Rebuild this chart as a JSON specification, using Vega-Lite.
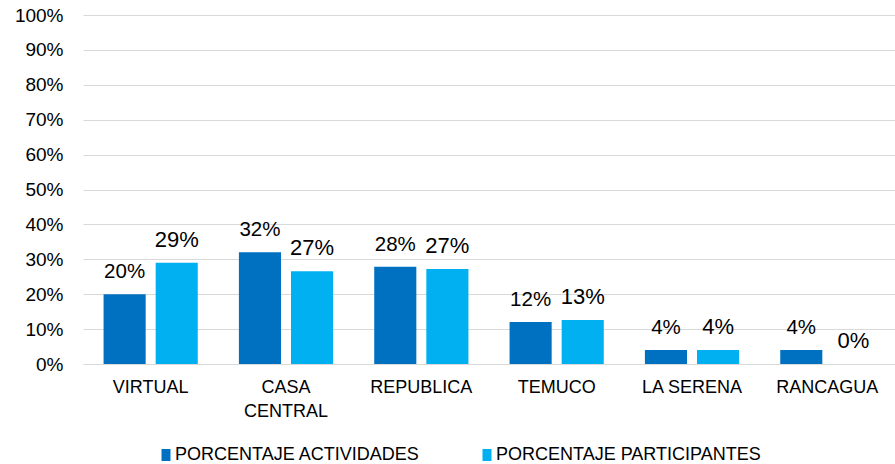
{
  "$schema": "https://vega.github.io/schema/vega-lite/v6.json",
  "width": 812,
  "height": 349,
  "autosize": "none",
  "padding": {"left": 83, "top": 15, "right": 0, "bottom": 100},
  "background": "white",
  "config": {"view": {"stroke": null}, "font": "Liberation Sans"},
  "data": {"values": [
    {"sede": "VIRTUAL", "serie": "PORCENTAJE ACTIVIDADES", "valor": 0.20},
    {"sede": "VIRTUAL", "serie": "PORCENTAJE PARTICIPANTES", "valor": 0.29},
    {"sede": "CASA CENTRAL", "serie": "PORCENTAJE ACTIVIDADES", "valor": 0.32},
    {"sede": "CASA CENTRAL", "serie": "PORCENTAJE PARTICIPANTES", "valor": 0.266},
    {"sede": "REPUBLICA", "serie": "PORCENTAJE ACTIVIDADES", "valor": 0.279},
    {"sede": "REPUBLICA", "serie": "PORCENTAJE PARTICIPANTES", "valor": 0.272},
    {"sede": "TEMUCO", "serie": "PORCENTAJE ACTIVIDADES", "valor": 0.12},
    {"sede": "TEMUCO", "serie": "PORCENTAJE PARTICIPANTES", "valor": 0.126},
    {"sede": "LA SERENA", "serie": "PORCENTAJE ACTIVIDADES", "valor": 0.04},
    {"sede": "LA SERENA", "serie": "PORCENTAJE PARTICIPANTES", "valor": 0.04},
    {"sede": "RANCAGUA", "serie": "PORCENTAJE ACTIVIDADES", "valor": 0.04},
    {"sede": "RANCAGUA", "serie": "PORCENTAJE PARTICIPANTES", "valor": 0.0}
  ]},
  "encoding": {
    "x": {
      "field": "sede", "type": "nominal", "sort": null, "title": null,
      "scale": {"paddingInner": 0.304, "paddingOuter": 0.152},
      "axis": {
        "labelAngle": 0, "ticks": false, "domain": true, "domainColor": "#D9D9D9",
        "labelFont": "Liberation Sans",
        "labelFontSize": 18, "labelColor": "#000000", "labelPadding": 14,
        "labelLineHeight": 24, "labelBaseline": "top",
        "labelExpr": "datum.label == 'CASA CENTRAL' ? ['CASA', 'CENTRAL'] : datum.label"
      }
    },
    "xOffset": {"field": "serie", "type": "nominal", "scale": {"paddingInner": 0.192, "paddingOuter": 0}},
    "y": {
      "field": "valor", "type": "quantitative", "title": null,
      "scale": {"domain": [0, 1]},
      "axis": {
        "format": ".0%", "values": [0,0.1,0.2,0.3,0.4,0.5,0.6,0.7,0.8,0.9,1],
        "labelOverlap": false,
        "grid": true, "gridColor": "#D9D9D9", "domain": false, "ticks": false,
        "labelFontSize": 19, "labelColor": "#000000", "labelPadding": 20
      }
    }
  },
  "layer": [
    {
      "mark": {"type": "bar"},
      "encoding": {
        "color": {
          "field": "serie", "type": "nominal",
          "scale": {"domain": ["PORCENTAJE ACTIVIDADES", "PORCENTAJE PARTICIPANTES"], "range": ["#0070C0", "#00B0F0"]},
          "legend": {
            "title": null, "orient": "none", "direction": "horizontal",
            "legendX": 74, "legendY": 431,
            "symbolType": "M-0.75,-1H0.75V1H-0.75Z", "symbolSize": 144,
            "symbolStrokeWidth": 0,
            "labelFont": "Liberation Sans",
            "labelFontSize": 18, "labelColor": "#000000", "labelOffset": 0,
            "labelLimit": 500,
            "columnPadding": 58
          }
        }
      }
    },
    {
      "transform": [{"filter": "datum.serie == 'PORCENTAJE ACTIVIDADES'"}],
      "mark": {"type": "text", "baseline": "alphabetic", "dy": -16, "fontSize": 20.5, "color": "#000000"},
      "encoding": {"text": {"field": "valor", "type": "quantitative", "format": ".0%"}}
    },
    {
      "transform": [{"filter": "datum.serie == 'PORCENTAJE PARTICIPANTES'"}],
      "mark": {"type": "text", "baseline": "alphabetic", "dy": -16, "fontSize": 22, "color": "#000000"},
      "encoding": {"text": {"field": "valor", "type": "quantitative", "format": ".0%"}}
    }
  ]
}
